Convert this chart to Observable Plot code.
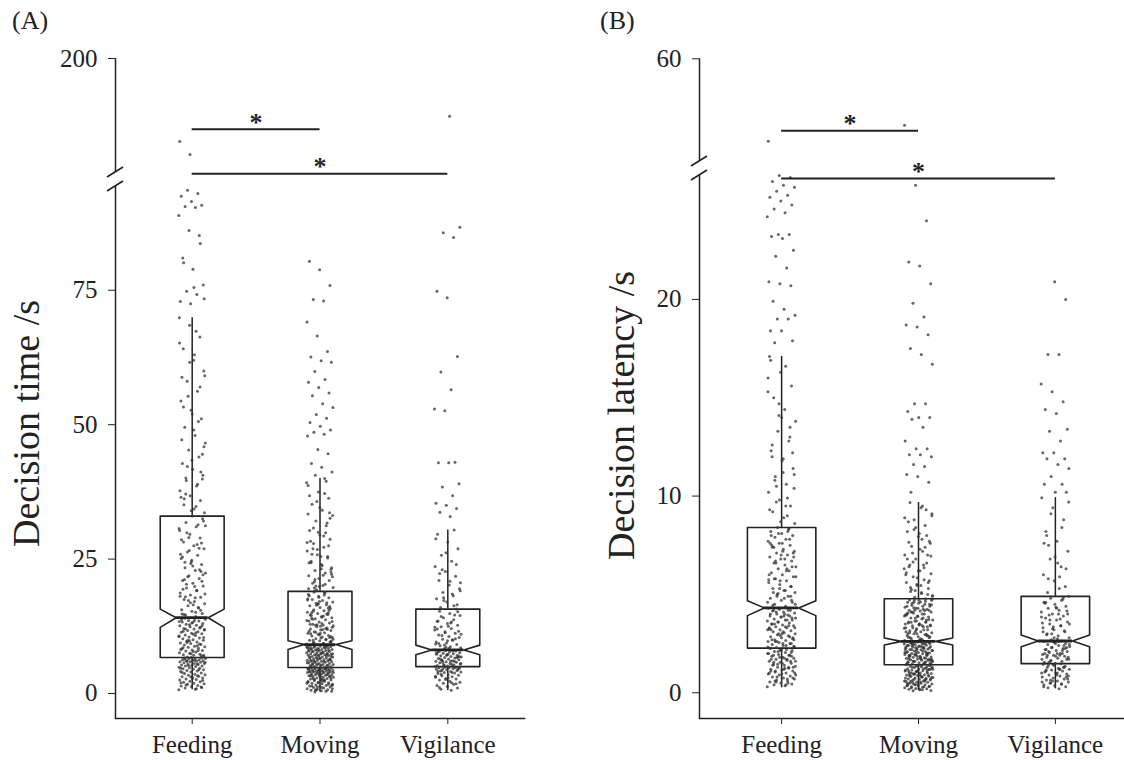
<!DOCTYPE html>
<html><head><meta charset="utf-8">
<script src="https://cdn.jsdelivr.net/npm/d3@7"></script>
<script src="https://cdn.jsdelivr.net/npm/@observablehq/plot@0.6"></script>
<style>
html,body{margin:0;padding:0;background:#fff;}
#wrap{position:relative;width:1124px;height:760px;overflow:hidden;font-family:"Liberation Serif",serif;color:#222;background:#fff;}
.panel{position:absolute;top:0;}
.tag{position:absolute;top:8px;font-size:26px;line-height:26px;z-index:2;}
</style></head><body>
<div id="wrap">
<div id="pa" class="panel" style="left:0;width:562px"></div>
<div id="pb" class="panel" style="left:562px;width:575px"></div>
<div class="tag" style="left:12px">(A)</div>
<div class="tag" style="left:600px">(B)</div>
</div>
<script>
const categories = ["Feeding", "Moving", "Vigilance"];

// ---- Panel A: decision time (s) ----
const timeFeeding = [0.7,0.8,1.0,1.1,1.3,1.4,1.5,1.7,1.8,1.9,2.1,2.2,2.3,2.5,2.6,2.7,2.9,3.0,3.1,3.2,3.4,3.5,3.6,3.7,3.8,4.0,4.1,4.2,4.3,4.4,4.5,4.6,4.7,4.8,4.9,5.0,5.1,5.1,5.2,5.3,5.4,5.5,5.6,5.6,5.7,5.8,5.9,5.9,6.0,6.1,6.1,6.2,6.3,6.3,6.4,6.5,6.5,6.6,6.6,6.7,2.0,3.3,
6.8,6.9,7.1,7.2,7.3,7.5,7.6,7.7,7.9,8.0,8.1,8.3,8.4,8.6,8.7,8.8,9.0,9.1,9.3,9.4,9.6,9.7,9.9,10.0,10.2,10.3,10.5,10.6,10.8,10.9,11.1,11.2,11.4,11.5,11.7,11.8,12.0,12.1,12.3,12.4,12.6,12.7,12.9,13.0,13.2,13.3,13.5,13.6,13.8,13.9,14.0,7.0,7.4,8.2,8.9,9.5,10.4,11.0,11.6,12.2,12.8,13.4,
14.3,14.6,14.9,15.3,15.6,16.0,16.3,16.7,17.1,17.5,17.9,18.3,18.7,19.1,19.6,20.0,20.5,21.0,21.4,21.9,22.4,22.9,23.4,24.0,24.5,25.1,25.7,26.3,26.9,27.5,28.2,28.9,29.6,30.3,31.0,31.8,32.5,33.0,14.8,15.9,17.3,18.5,19.9,21.2,22.7,24.2,25.9,27.7,29.9,32.1,16.5,19.4,23.0,26.6,30.7,15.1,18.0,20.9,24.8,28.6,31.4,21.7,
33.6,34.3,35.1,35.9,36.8,37.7,38.6,39.6,40.6,41.7,42.8,44.0,45.3,46.6,48.0,49.5,51.1,52.7,54.4,56.2,58.1,60.0,62.0,64.1,66.3,68.5,69.9,34.8,37.1,39.9,43.4,47.2,50.6,55.3,59.1,63.0,36.2,41.2,
72.5,72.9,74.2,74.8,76.0,78.9,81.0,85.2,86.1,88.9,90.4,90.6,90.8,91.5,92.5,93.0,93.6,73.4,75.5,80.1,83.7,115.8,127.2,
0.9,1.6,2.4,2.8,3.9,4.4,5.2,5.8,6.2,6.4,1.2,3.1,4.7,5.5,6.0,
7.1,7.8,8.5,9.2,9.8,10.7,11.3,12.0,12.6,13.1,13.7,8.0,9.9,11.9,13.5,
14.7,15.5,16.9,18.1,19.2,20.3,22.1,23.7,25.4,27.0,29.0,31.2,17.8,24.4,28.0,
34.0,36.5,38.9,42.2,45.9,49.0,53.3,57.0,61.6,65.2,67.4,40.1,44.5,52.0,58.8];
const timeMoving = [0.3,0.4,0.5,0.6,0.7,0.8,0.9,1.0,1.1,1.2,1.3,1.4,1.5,1.6,1.7,1.8,1.9,2.0,2.1,2.2,2.3,2.4,2.5,2.6,2.7,2.8,2.9,3.0,3.0,3.1,3.2,3.3,3.3,3.4,3.5,3.5,3.6,3.7,3.7,3.8,3.9,3.9,4.0,4.0,4.1,4.1,4.2,4.2,4.3,4.3,4.4,4.4,4.5,4.5,4.6,4.6,4.7,4.7,4.8,4.8,1.2,1.9,2.4,2.8,3.2,3.6,4.1,4.5,0.6,1.6,2.7,3.4,3.8,4.2,4.6,
4.9,5.0,5.0,5.1,5.2,5.2,5.3,5.4,5.4,5.5,5.6,5.6,5.7,5.8,5.8,5.9,6.0,6.0,6.1,6.2,6.2,6.3,6.4,6.4,6.5,6.6,6.6,6.7,6.8,6.8,6.9,7.0,7.0,7.1,7.2,7.2,7.3,7.4,7.4,7.5,7.6,7.6,7.7,7.8,7.8,7.9,8.0,8.0,8.1,8.2,8.2,8.3,8.4,8.4,8.5,8.6,8.6,8.7,8.8,8.8,8.9,9.0,9.0,9.1,5.5,6.3,7.1,7.9,8.5,5.9,6.9,7.5,8.3,8.9,6.5,
9.2,9.3,9.5,9.6,9.8,9.9,10.1,10.2,10.4,10.5,10.7,10.8,11.0,11.2,11.3,11.5,11.7,11.8,12.0,12.2,12.4,12.6,12.7,12.9,13.1,13.3,13.5,13.7,13.9,14.1,14.3,14.5,14.7,14.9,15.1,15.4,15.6,15.8,16.0,16.3,16.5,16.8,17.0,17.3,17.5,17.8,18.1,18.4,18.7,19.0,9.7,10.3,11.1,11.9,12.8,13.6,14.4,15.3,16.2,17.1,18.2,10.0,11.4,12.3,13.0,14.0,15.0,16.6,17.6,18.8,9.4,10.6,12.5,14.6,16.9,
19.3,19.7,20.1,20.5,21.0,21.4,21.9,22.4,22.9,23.4,24.0,24.6,25.2,25.8,26.5,27.2,27.9,28.7,29.5,30.3,31.2,32.1,33.1,34.1,35.2,36.3,37.5,38.7,40.0,20.8,23.1,25.5,28.3,31.7,35.7,39.2,22.0,26.9,33.6,19.9,24.3,29.9,
40.6,41.2,42.1,42.8,44.6,45.4,47.9,48.2,48.6,49.0,49.7,50.4,51.2,51.9,53.2,53.9,55.4,55.9,56.9,57.9,58.4,59.9,61.6,61.9,62.6,63.6,66.5,69.1,73.0,73.3,75.9,78.8,80.4,
0.4,0.7,0.9,1.1,1.4,1.7,2.0,2.2,2.5,2.6,2.9,3.1,3.3,3.5,3.7,3.9,4.0,4.2,4.3,4.4,4.6,4.7,4.8,1.5,2.3,
5.0,5.2,5.5,5.7,5.9,6.1,6.3,6.6,6.8,7.0,7.2,7.4,7.6,7.8,8.0,8.2,8.4,8.6,8.8,9.0,5.3,6.2,7.3,8.1,8.7,
9.3,9.9,10.4,10.9,11.6,12.1,12.7,13.4,14.2,15.0,15.9,16.7,17.4,18.3,18.9,9.6,11.2,12.9,14.8,16.4,10.1,11.9,13.8,15.5,17.9,
19.5,20.3,21.2,22.2,23.2,24.3,25.5,26.8,28.1,29.3,30.8,32.6,34.6,36.8,39.5,20.0,21.7,23.8,25.9,27.5,30.0,33.4,37.2,19.6,22.6];
const timeVigilance = [0.6,0.8,1.0,1.3,1.5,1.7,1.9,2.1,2.3,2.5,2.7,2.8,3.0,3.1,3.3,3.4,3.5,3.7,3.8,3.9,4.0,4.1,4.2,4.3,4.4,4.5,4.6,4.6,4.7,4.8,4.8,4.9,4.9,5.0,2.0,3.6,4.4,
5.1,5.2,5.3,5.4,5.5,5.6,5.7,5.8,5.9,6.0,6.1,6.2,6.3,6.4,6.5,6.6,6.7,6.8,6.9,7.0,7.1,7.2,7.3,7.4,7.5,7.6,7.7,7.8,7.9,8.0,8.1,5.4,6.2,6.8,7.3,7.7,6.0,
8.3,8.5,8.7,8.9,9.1,9.4,9.6,9.9,10.1,10.4,10.6,10.9,11.2,11.5,11.8,12.1,12.4,12.7,13.0,13.4,13.7,14.1,14.5,14.9,15.3,15.7,8.6,9.2,10.0,10.8,11.6,12.5,13.5,14.6,9.0,11.0,13.1,
16.0,16.5,17.0,17.6,18.2,18.8,19.5,20.2,21.0,21.8,22.7,23.6,24.6,25.7,26.9,28.2,29.6,30.4,17.3,20.6,
32.9,33.7,34.4,35.0,35.4,36.8,38.4,39.0,42.9,42.9,43.0,52.6,52.9,56.5,59.8,62.7,73.6,74.8,84.8,85.7,86.7,149.4,
1.1,1.8,2.6,3.2,3.9,4.3,4.7,2.9,4.1,4.9,5.2,5.6,6.0,6.4,6.7,7.1,7.5,7.9,5.8,6.9,
8.4,9.3,10.2,11.3,12.3,13.3,14.3,15.2,9.8,12.0,16.3,17.8,19.1,20.9,22.3,24.0,26.2,28.8,18.5,23.0];
const timeQ1 = [6.7, 4.84, 5.0];
const timeMedian = [14.1, 9.1, 8.1];
const timeQ3 = [33.0, 19.0, 15.7];
const timeNotchLow = [12.3, 8.2, 7.2];
const timeNotchHigh = [15.7, 9.8, 9.0];
const timeWhiskerLow = [0.7, 0.25, 0.56];
const timeWhiskerHigh = [69.9, 40.0, 30.4];
const timeTicks = [0, 25, 50, 75, 200];
const timeSigFrom = [1, 1];
const timeSigTo = [2, 3];
const timeSigY = [138, 99.5];

// ---- Panel B: decision latency (s) ----
const latFeeding = [0.3,0.35,0.4,0.45,0.5,0.55,0.6,0.65,0.7,0.75,0.8,0.85,0.9,0.95,1.0,1.05,1.1,1.15,1.2,1.25,1.3,1.35,1.4,1.45,1.5,1.55,1.6,1.65,1.7,1.75,1.8,1.85,1.9,1.95,2.0,2.05,2.1,2.15,2.2,2.25,0.5,0.8,1.0,1.2,1.4,1.6,1.8,2.0,2.2,1.1,1.3,1.5,1.7,1.9,2.1,0.9,1.25,1.55,1.85,2.15,2.27,0.7,
2.3,2.35,2.4,2.45,2.5,2.55,2.6,2.65,2.7,2.75,2.8,2.85,2.9,2.95,3.0,3.05,3.1,3.15,3.2,3.25,3.3,3.35,3.4,3.45,3.5,3.55,3.6,3.65,3.7,3.75,3.8,3.85,3.9,3.95,4.0,4.05,4.1,4.15,4.2,4.25,4.3,2.4,2.6,2.8,3.0,3.2,3.4,3.6,3.8,4.0,4.2,2.5,2.9,3.3,3.7,4.1,2.7,3.1,3.5,3.9,4.3,2.33,
4.4,4.5,4.6,4.7,4.8,4.9,5.0,5.1,5.2,5.3,5.4,5.5,5.6,5.7,5.8,5.9,6.0,6.1,6.2,6.3,6.4,6.5,6.6,6.7,6.8,6.9,7.0,7.1,7.2,7.3,7.4,7.5,7.6,7.7,7.8,7.9,8.0,8.1,8.2,8.3,8.4,4.5,4.8,5.1,5.4,5.7,6.0,6.3,6.6,6.9,7.2,7.5,7.8,8.1,4.6,5.2,5.8,6.4,7.0,7.6,8.2,4.9,
8.6,8.9,9.2,9.5,9.8,10.2,10.6,11.0,11.4,11.8,12.3,12.8,13.3,13.8,14.4,15.0,15.6,16.3,17.1,9.0,9.7,10.4,11.2,12.0,13.0,14.1,15.3,16.6,
17.8,17.9,18.4,18.4,19.0,19.0,19.2,19.5,19.9,20.7,20.8,20.9,21.6,22.2,22.5,23.1,23.2,23.3,23.3,24.2,24.4,24.6,24.8,25.0,25.2,25.3,25.5,25.7,25.8,26.0,26.2,26.3,35.9,
0.4,0.6,0.75,0.95,1.1,1.3,1.45,1.6,1.75,1.9,2.05,2.2,1.0,1.7,0.55,
2.35,2.5,2.7,2.85,3.0,3.2,3.35,3.5,3.7,3.85,4.0,4.2,2.6,3.3,3.9,
4.45,4.9,5.3,5.75,6.2,6.7,7.1,7.6,8.0,8.35,5.05,5.9,6.8,7.4,4.7,
8.7,9.3,9.9,10.5,11.1,11.9,12.6,13.5,14.7,16.0,9.5,10.8,12.2,14.0,16.9];
const latMoving = [0.1,0.12,0.15,0.18,0.2,0.22,0.25,0.28,0.3,0.33,0.35,0.38,0.4,0.43,0.45,0.48,0.5,0.53,0.55,0.58,0.6,0.62,0.65,0.68,0.7,0.72,0.75,0.78,0.8,0.82,0.85,0.88,0.9,0.92,0.95,0.98,1.0,1.02,1.05,1.08,1.1,1.12,1.15,1.18,1.2,1.22,1.25,1.28,1.3,1.32,1.35,1.38,1.4,1.42,0.3,0.5,0.7,0.9,1.1,1.3,0.4,0.6,0.8,1.0,1.2,1.4,0.35,0.65,0.95,1.25,0.55,0.85,1.15,1.35,0.75,
1.45,1.48,1.5,1.52,1.55,1.58,1.6,1.62,1.65,1.68,1.7,1.72,1.75,1.78,1.8,1.82,1.85,1.88,1.9,1.92,1.95,1.98,2.0,2.02,2.05,2.08,2.1,2.12,2.15,2.18,2.2,2.22,2.25,2.28,2.3,2.32,2.35,2.38,2.4,2.42,2.45,2.48,2.5,2.52,2.55,2.58,2.6,1.5,1.6,1.7,1.8,1.9,2.0,2.1,2.2,2.3,2.4,2.5,2.6,1.55,1.75,1.95,2.15,2.35,2.55,1.65,1.85,2.05,2.25,2.45,1.45,2.6,1.7,2.0,2.3,
2.65,2.7,2.75,2.8,2.85,2.9,2.95,3.0,3.05,3.1,3.15,3.2,3.25,3.3,3.35,3.4,3.45,3.5,3.55,3.6,3.65,3.7,3.75,3.8,3.85,3.9,3.95,4.0,4.05,4.1,4.15,4.2,4.25,4.3,4.35,4.4,4.45,4.5,4.55,4.6,4.65,4.7,4.75,2.7,2.8,2.9,3.0,3.1,3.2,3.3,3.4,3.5,3.6,3.7,3.8,3.9,4.0,4.1,4.2,4.3,4.4,4.5,4.6,4.7,2.75,3.05,3.35,3.65,3.95,4.25,4.55,2.85,3.45,4.05,4.78,
4.85,4.95,5.05,5.15,5.3,5.45,5.6,5.75,5.9,6.05,6.2,6.4,6.6,6.8,7.0,7.2,7.45,7.7,7.95,8.2,8.5,8.8,9.1,9.4,9.67,5.0,5.5,6.0,6.5,7.1,7.6,8.1,8.7,9.3,5.2,6.3,7.8,
10.2,10.7,11.0,11.1,11.5,11.6,12.0,12.1,12.1,12.4,12.4,12.8,13.5,13.9,14.0,14.0,14.3,14.7,14.7,16.7,17.2,17.5,18.2,18.6,18.7,19.1,19.8,20.8,21.7,21.9,24.0,25.8,40.6,
0.15,0.25,0.32,0.42,0.5,0.6,0.68,0.78,0.85,0.92,1.0,1.08,1.15,1.22,1.3,1.38,0.2,0.45,0.7,0.95,1.2,1.4,0.58,0.88,1.1,
1.46,1.52,1.6,1.68,1.75,1.82,1.9,1.98,2.05,2.12,2.2,2.28,2.35,2.42,2.5,2.58,1.56,1.72,1.88,2.02,2.18,2.32,2.48,2.55,1.65,
2.68,2.82,2.98,3.12,3.28,3.42,3.58,3.72,3.88,4.02,4.18,4.32,4.48,4.62,4.72,2.9,3.2,3.5,3.8,4.1,4.4,4.7,3.0,3.6,4.2,
4.9,5.1,5.35,5.6,5.85,6.1,6.35,6.65,6.95,7.3,7.65,8.0,8.4,8.9,9.5,5.25,5.7,6.2,6.8,7.4,8.3,9.0,5.45,6.5,7.0];
const latVigilance = [0.2,0.25,0.3,0.35,0.4,0.45,0.5,0.55,0.6,0.65,0.7,0.75,0.8,0.85,0.9,0.95,1.0,1.05,1.1,1.15,1.2,1.25,1.3,1.35,1.4,1.45,1.48,0.5,0.7,0.9,1.1,1.3,0.6,1.0,1.2,1.4,0.8,
1.5,1.55,1.6,1.65,1.7,1.75,1.8,1.85,1.9,1.95,2.0,2.05,2.1,2.15,2.2,2.25,2.3,2.35,2.4,2.45,2.5,2.55,2.6,2.63,1.6,1.8,2.0,2.2,2.4,2.6,1.7,1.9,2.1,2.3,2.5,1.5,2.0,
2.7,2.8,2.9,3.0,3.1,3.2,3.3,3.4,3.5,3.6,3.7,3.8,3.9,4.0,4.1,4.2,4.3,4.4,4.5,4.6,4.7,4.8,4.9,2.75,2.95,3.15,3.35,3.55,3.75,3.95,4.15,4.35,4.55,4.75,3.0,3.5,4.0,
5.1,5.4,5.7,6.0,6.4,6.8,7.2,7.7,8.2,8.8,9.4,9.92,5.9,7.5,
10.2,10.2,10.6,10.6,11.0,11.4,11.6,11.9,11.9,12.2,12.2,12.8,13.3,13.4,14.2,14.4,14.8,15.3,15.7,17.2,17.2,20.0,20.9,
0.3,0.45,0.65,0.85,1.0,1.15,1.3,1.42,0.55,1.2,1.55,1.7,1.85,2.0,2.15,2.3,2.45,2.6,1.9,2.25,
2.8,3.1,3.4,3.7,4.0,4.3,4.6,4.85,3.25,3.85,5.3,5.8,6.3,6.9,7.6,8.4,9.1,9.7,6.6,8.0];
const latQ1 = [2.27, 1.42, 1.48];
const latMedian = [4.31, 2.61, 2.63];
const latQ3 = [8.4, 4.78, 4.9];
const latNotchLow = [3.92, 2.43, 2.34];
const latNotchHigh = [4.68, 2.78, 2.94];
const latWhiskerLow = [0.25, 0.1, 0.2];
const latWhiskerHigh = [17.1, 9.67, 9.92];
const latTicks = [0, 10, 20, 60];
const latSigFrom = [1, 1];
const latSigTo = [2, 3];
const latSigY = [39, 26.15];

const INK = "#222";
const xDomain = [0.4, 3.6];

function jit(i, c) {
  const f = (i * 0.6180339887 + c * 0.313) % 1;
  return (f - 0.5) * 0.21;
}

function makePanel(cfg) {
  const pts = [];
  cfg.values.forEach((arr, c) => arr.forEach((v, i) => pts.push({x: c + 1 + jit(i, c), v})));
  const stats = categories.map((name, c) => ({
    i: c + 1, q1: cfg.q1[c], med: cfg.med[c], q3: cfg.q3[c],
    nlo: cfg.nlo[c], nhi: cfg.nhi[c], wlo: cfg.wlo[c], whi: cfg.whi[c]
  }));
  const w = 0.25;
  const poly = [];
  for (const s of stats) {
    const verts = [[-w, s.q3], [-w, s.nhi], [-w / 2, s.med], [-w, s.nlo], [-w, s.q1],
                   [w, s.q1], [w, s.nlo], [w / 2, s.med], [w, s.nhi], [w, s.q3], [-w, s.q3]];
    for (const [dx, y] of verts) poly.push({z: s.i, x: s.i + dx, y});
  }
  const sig = cfg.sigFrom.map((f, k) => ({from: f, to: cfg.sigTo[k], y: cfg.sigY[k]}));
  const segs = [{y1: cfg.domain[0], y2: cfg.domain[1]}, {y1: cfg.domain[2], y2: cfg.domain[3]}];
  const breakMark = (index, scales) => {
    const g = d3.create("svg:g").attr("stroke", INK).attr("stroke-width", 1.6);
    const x0 = scales.x(xDomain[0]);
    for (const v of [cfg.domain[1], cfg.domain[2]]) {
      const y = scales.y(v);
      g.append("line").attr("x1", x0 - 8).attr("y1", y + 5).attr("x2", x0 + 8).attr("y2", y - 5);
    }
    return g.node();
  };
  return Plot.plot({
    width: cfg.width,
    height: 760,
    marginTop: 58,
    marginBottom: 42,
    marginLeft: cfg.marginLeft,
    marginRight: cfg.marginRight,
    style: {fontFamily: "'Liberation Serif', serif", color: INK, background: "transparent", maxWidth: "none", overflow: "visible"},
    x: {domain: xDomain, range: cfg.xRange},
    y: {type: "linear", domain: cfg.domain, range: cfg.range},
    marks: [
      Plot.ruleX(stats, {x: "i", y1: "q3", y2: "whi", stroke: INK, strokeWidth: 1.5}),
      Plot.ruleX(stats, {x: "i", y1: "wlo", y2: "q1", stroke: INK, strokeWidth: 1.5}),
      Plot.line(poly, {x: "x", y: "y", z: "z", stroke: INK, strokeWidth: 1.6}),
      Plot.dot(pts, {x: "x", y: "v", r: 1.5, fill: "#333", fillOpacity: 0.75}),
      Plot.ruleY(stats, {y: "med", x1: d => d.i - w / 2, x2: d => d.i + w / 2, stroke: INK, strokeWidth: 2.8}),
      Plot.ruleY(sig, {y: "y", x1: "from", x2: "to", stroke: INK, strokeWidth: 2}),
      Plot.text(sig, {x: d => (d.from + d.to) / 2, y: "y", text: () => "*", dy: -7, fontSize: 26, fontWeight: "bold", fill: INK}),
      Plot.ruleX(segs, {x: () => xDomain[0], y1: "y1", y2: "y2", stroke: INK, strokeWidth: 1.5}),
      Plot.frame({anchor: "bottom", stroke: INK, strokeWidth: 1.5}),
      breakMark,
      Plot.axisY({ticks: cfg.ticks, tickSize: 7, tickPadding: 11, fontSize: 25, label: null, tickFormat: d => String(d)}),
      Plot.axisX({ticks: [1, 2, 3], tickFormat: d => categories[d - 1], tickSize: 6, tickPadding: 11, fontSize: 25, label: null}),
      Plot.text([cfg.title], {frameAnchor: "left", textAnchor: "middle", lineAnchor: "middle", rotate: -90, dx: cfg.titleDx, dy: cfg.titleDy, fontSize: 38, fill: INK})
    ]
  });
}

document.getElementById("pa").append(makePanel({
  values: [timeFeeding, timeMoving, timeVigilance],
  q1: timeQ1, med: timeMedian, q3: timeQ3, nlo: timeNotchLow, nhi: timeNotchHigh,
  wlo: timeWhiskerLow, whi: timeWhiskerHigh, ticks: timeTicks,
  sigFrom: timeSigFrom, sigTo: timeSigTo, sigY: timeSigY,
  domain: [-4.65, 94.3, 100, 200], range: [718, 186, 172, 58],
  width: 562, marginLeft: 115, marginRight: 38, xRange: [115, 524],
  title: "Decision time /s", titleDx: -89, titleDy: 35
}));
document.getElementById("pb").append(makePanel({
  values: [latFeeding, latMoving, latVigilance],
  q1: latQ1, med: latMedian, q3: latQ3, nlo: latNotchLow, nhi: latNotchHigh,
  wlo: latWhiskerLow, whi: latWhiskerHigh, ticks: latTicks,
  sigFrom: latSigFrom, sigTo: latSigTo, sigY: latSigY,
  domain: [-1.31, 26.3, 30, 60], range: [718, 175, 161, 58.3],
  width: 575, marginLeft: 137, marginRight: 0, xRange: [137, 575],
  title: "Decision latency /s", titleDx: -78, titleDy: 27
}));
</script>
</body></html>
